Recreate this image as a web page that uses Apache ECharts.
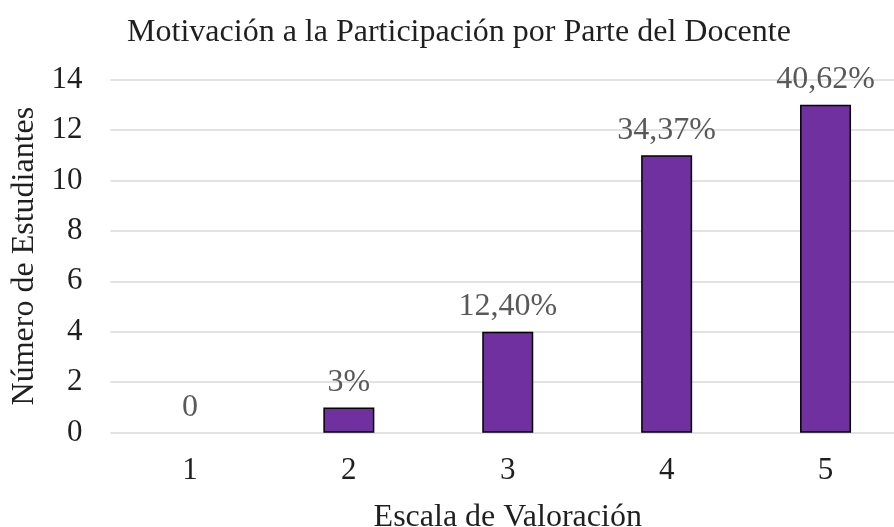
<!DOCTYPE html>
<html>
<head>
<meta charset="utf-8">
<script src="https://cdn.jsdelivr.net/npm/echarts@6/dist/echarts.min.js"></script>
<style>
html,body{margin:0;padding:0;background:#fff;overflow:hidden;}
#chartBox{width:894px;height:527px;}
</style>
</head>
<body>
<div id="chartBox"></div>
<script>
// datos
var escala = ['1', '2', '3', '4', '5'];
var estudiantes = [0, 1, 4, 11, 13];
var etiquetas = ['0', '3%', '12,40%', '34,37%', '40,62%'];
var yTicks = [0, 2, 4, 6, 8, 10, 12, 14];

var fuente = 'Liberation Serif';
var myChart = echarts.init(document.getElementById('chartBox'));

// la barra de valor 0 no se dibuja (sin borde)
var barras = estudiantes.map(function (v) {
	return v === 0 ? { value: v, itemStyle: { borderWidth: 0, opacity: 0 } } : v;
});

var option = {
	backgroundColor: '#fff',
	animation: false,
	title: {
		text: 'Motivación a la Participación por Parte del Docente',
		left: 454,
		textAlign: 'center',
		top: 12,
		textStyle: { fontFamily: fuente, fontSize: 32, fontWeight: 'normal', color: '#1f1f1f' }
	},
	grid: { left: 110.5, right: -11, top: 79.5, bottom: 94.3, outerBoundsMode: 'none' },
	xAxis: {
		type: 'category',
		data: escala,
		name: 'Escala de Valoración',
		nameLocation: 'middle',
		nameGap: 69,
		nameTextStyle: { fontFamily: fuente, fontSize: 32, color: '#1f1f1f' },
		axisLine: { show: false },
		axisTick: { show: false },
		axisLabel: { fontFamily: fuente, fontSize: 31, color: '#1f1f1f', margin: 23 }
	},
	yAxis: {
		type: 'value',
		min: yTicks[0],
		max: yTicks[yTicks.length - 1],
		interval: 2,
		name: 'Número de Estudiantes',
		nameLocation: 'middle',
		nameRotate: 90,
		nameGap: 50,
		nameTextStyle: { fontFamily: fuente, fontSize: 32, color: '#1f1f1f' },
		axisLine: { show: false },
		axisTick: { show: false },
		axisLabel: { fontFamily: fuente, fontSize: 31, color: '#1f1f1f', margin: 28 },
		splitLine: { lineStyle: { color: '#d9d9d9', width: 1.5 } }
	},
	series: [
		{
			type: 'bar',
			data: barras,
			barWidth: 51,
			itemStyle: { color: '#7030A0', borderColor: '#000', borderWidth: 1.5 },
			label: {
				show: true,
				position: 'top',
				distance: 9,
				fontFamily: fuente,
				fontSize: 32,
				color: '#595959',
				opacity: 1,
				formatter: function (p) { return etiquetas[p.dataIndex]; }
			}
		}
	]
};
myChart.setOption(option);
</script>
</body>
</html>
